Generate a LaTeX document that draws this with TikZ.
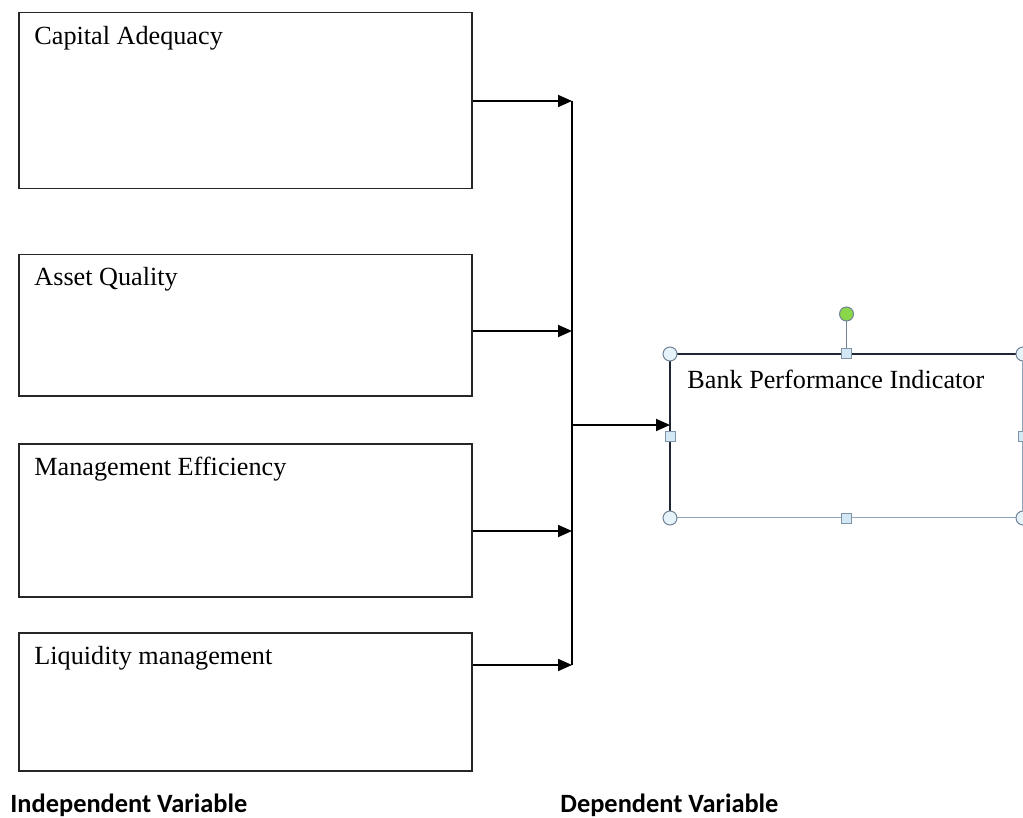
\documentclass[tikz,border=0pt]{standalone}
\usepackage{fontspec}
\setmainfont{Liberation Serif}
\newfontfamily\labelfont{Carlito}
\usetikzlibrary{arrows.meta,positioning,calc}

\definecolor{selline}{HTML}{8DA4BC}
\definecolor{handlefill}{HTML}{E6F3F8}
\definecolor{sqfill}{HTML}{D3E8F5}
\definecolor{rotgreen}{HTML}{8AD84A}
\definecolor{darkedge}{HTML}{1C2733}

\tikzset{
  varbox/.style={draw=black!85, line width=0.75pt, rectangle, anchor=north west, inner sep=0pt, minimum width=226.5pt},
  boxtext/.style={anchor=base west, inner sep=0pt, font=\fontsize{13.1}{15}\selectfont},
  flow/.style={line width=0.9pt, -{Triangle[length=7pt,width=6pt]}},
  cornerhandle/.style={circle, draw=selline!80!black, fill=handlefill, line width=0.5pt, minimum size=7pt, inner sep=0pt},
  sidehandle/.style={rectangle, draw=selline!90!black, fill=sqfill, line width=0.5pt, minimum size=5pt, inner sep=0pt},
  varlabel/.style={anchor=base west, inner sep=0pt, font=\labelfont\bfseries\fontsize{13.2}{15}\selectfont}
}

\begin{document}
\begin{tikzpicture}[x=0.5pt, y=-0.5pt]
\useasboundingbox (0,0) rectangle (1023,818);

\node[varbox, minimum height=88pt]   (cap)  at (18,12)  {};
\node[varbox, minimum height=70.5pt] (asq)  at (18,254) {};
\node[varbox, minimum height=76.5pt] (mgt)  at (18,443) {};
\node[varbox, minimum height=69pt]   (liq)  at (18,632) {};

\node[boxtext] (captext) at (34,45)  {Capital Adequacy};
\node[boxtext] (asqtext) at (34,286) {Asset Quality};
\node[boxtext] (mgttext) at (34,475) {Management Efficiency};
\node[boxtext] (liqtext) at (34,664) {Liquidity management};

\coordinate (j1) at (572,101);
\coordinate (j2) at (572,331);
\coordinate (j3) at (572,531);
\coordinate (j4) at (572,665);
\coordinate (jo) at (572,425);

\draw[flow] (cap.east |- j1) -- (j1);
\draw[flow] (asq.east |- j2) -- (j2);
\draw[flow] (mgt.east |- j3) -- (j3);
\draw[flow] (liq.east |- j4) -- (j4);
\draw[line width=0.9pt] (j1) -- (j4);

\node[draw=selline, line width=0.5pt, rectangle, anchor=north west, inner sep=0pt,
      minimum width=176pt, minimum height=81.5pt] (dep) at (670,354) {};
\draw[darkedge, line width=1.2pt] (dep.south west) -- (dep.north west) -- (dep.north east);
\node[boxtext] (deptext) at (687,388) {Bank Performance Indicator};

\draw[flow] (jo) -- (dep.west |- jo);

\node[cornerhandle, fill=rotgreen] (rot) at (dep.north |- 0,314) {};
\draw[selline!80!black, line width=0.6pt] (rot) -- (dep.north);
\foreach \a in {north west, north east, south west, south east}
  \node[cornerhandle] at (dep.\a) {};
\foreach \a in {north, south, west, east}
  \node[sidehandle] at (dep.\a) {};

\node[varlabel] (indep) at (10,812) {Independent Variable};
\node[varlabel] (dep-label) at (560,812) {Dependent Variable};
\end{tikzpicture}
\end{document}
